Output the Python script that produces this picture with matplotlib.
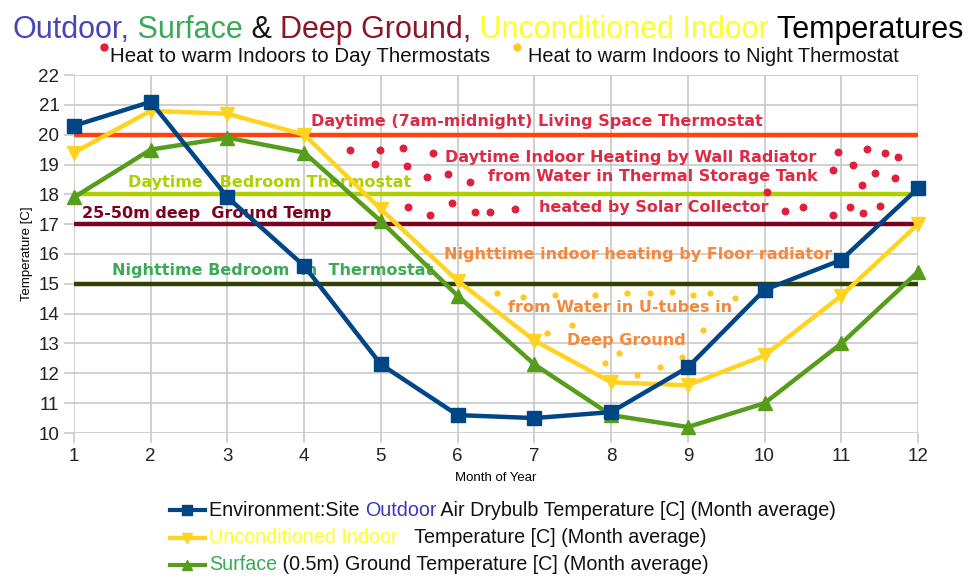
import matplotlib
matplotlib.use("Agg")
import matplotlib.pyplot as plt
from matplotlib.text import Annotation

plt.rcParams['font.family'] = ['Liberation Sans', 'DejaVu Sans']

# ---------------------------------------------------------------
# data
# ---------------------------------------------------------------
months = [1, 2, 3, 4, 5, 6, 7, 8, 9, 10, 11, 12]
outdoor = [20.3, 21.1, 17.9, 15.6, 12.3, 10.6, 10.5, 10.7, 12.2, 14.8, 15.8, 18.2]
indoor = [19.4, 20.8, 20.7, 20.0, 17.5, 15.1, 13.1, 11.7, 11.6, 12.6, 14.6, 17.0]
surface = [17.9, 19.5, 19.9, 19.4, 17.1, 14.6, 12.3, 10.6, 10.2, 11.0, 13.0, 15.4]

day_living = 20
day_bedroom = 18
deep_ground = 17
night_bedroom = 15

# decorative "heat" dots (month, temperature)
red_dot_m = [4.60, 4.99, 5.29, 5.68, 4.92, 5.34, 5.60, 5.87, 6.16, 5.35, 5.64, 5.93,
             6.23, 6.42, 10.96, 11.33, 11.57, 11.74, 10.89, 11.15, 11.44, 11.70, 11.27,
             10.03, 6.75, 10.27, 10.50, 10.89, 11.11, 11.28, 11.50]
red_dot_t = [19.49, 19.49, 19.55, 19.39, 19.02, 18.95, 18.58, 18.68, 18.41, 17.57, 17.31,
             17.71, 17.41, 17.41, 19.42, 19.52, 19.39, 19.25, 18.82, 18.98, 18.71, 18.55,
             18.31, 18.08, 17.51, 17.44, 17.57, 17.31, 17.57, 17.37, 17.61]
yel_dot_m = [6.51, 6.85, 7.27, 7.79, 8.21, 8.51, 8.79, 9.07, 9.29, 9.61, 7.16, 9.20,
             7.92, 8.64, 8.92, 7.49, 8.10, 8.34]
yel_dot_t = [14.69, 14.56, 14.62, 14.62, 14.69, 14.69, 14.73, 14.62, 14.69, 14.52, 13.35,
             13.45, 12.35, 12.21, 12.55, 13.62, 12.68, 11.94]

C_BLUE = '#004586'
C_YEL = '#ffd320'
C_GRN = '#579d1c'
C_ORG = '#ff420e'
C_LIME = '#aecf00'
C_MAR = '#7e0021'
C_OLV = '#314004'
C_RED = '#dd2a45'
C_NIGHT = '#f5883a'

fig = plt.figure(figsize=(9.76, 5.77), dpi=100, facecolor='white')
ax = fig.add_axes([74 / 976, 1 - 433 / 577, (918 - 74) / 976, (433 - 75) / 577])

ax.set_xlim(1, 12)
ax.set_ylim(10, 22)
ax.set_xticks(months)
ax.set_yticks(range(10, 23))
ax.grid(True, color='#c8c8c8', lw=1.2)
ax.set_axisbelow(True)
for sp in ax.spines.values():
    sp.set_visible(False)
ax.tick_params(axis='both', colors='#c8c8c8', length=7, width=1.2, labelcolor='#222222',
               labelsize=13.5)
ax.set_ylabel('Temperature [C]', fontsize=9.5, labelpad=4)
ax.set_xlabel('Month of Year', fontsize=9.5, labelpad=5)

# thermostat / ground levels
ax.axhline(day_living, color=C_ORG, lw=3.2, zorder=2)
ax.axhline(day_bedroom, color=C_LIME, lw=3.2, zorder=2)
ax.axhline(deep_ground, color=C_MAR, lw=3.2, zorder=2)
ax.axhline(night_bedroom, color=C_OLV, lw=3.2, zorder=2)

ax.scatter(red_dot_m, red_dot_t, s=22, color='#e0203a', zorder=2)
ax.scatter(yel_dot_m, yel_dot_t, s=12, color='#ffc820', zorder=2)

# annotations
bold = dict(fontsize=11.5, fontweight='bold', va='center', zorder=3, family='DejaVu Sans')
ax.text(7.03, 20.45, 'Daytime (7am-midnight) Living Space Thermostat', color=C_RED, ha='center', **bold)
ax.text(8.25, 19.25, 'Daytime Indoor Heating by Wall Radiator', color=C_RED, ha='center', **bold)
ax.text(8.55, 18.6, 'from Water in Thermal Storage Tank', color=C_RED, ha='center', **bold)
ax.text(8.56, 17.55, 'heated by Solar Collector', color=C_RED, ha='center', **bold)
ax.text(1.7, 18.4, 'Daytime   Bedroom Thermostat', color=C_LIME, ha='left', **bold)
ax.text(1.1, 17.35, '25-50m deep  Ground Temp', color=C_MAR, ha='left', **bold)
ax.text(1.5, 15.45, 'Nighttime Bedroom  m  Thermostat', color='#3aaa55', ha='left', **bold)
ax.text(8.35, 15.97, 'Nighttime indoor heating by Floor radiator', color=C_NIGHT, ha='center', **bold)
ax.text(8.12, 14.2, 'from Water in U-tubes in', color=C_NIGHT, ha='center', **bold)
ax.text(8.2, 13.1, 'Deep Ground', color=C_NIGHT, ha='center', **bold)

# series
l1, = ax.plot(months, outdoor, color=C_BLUE, lw=3.2, marker='s', ms=10, clip_on=False, zorder=5)
l2, = ax.plot(months, indoor, color=C_YEL, lw=3.2, marker='v', ms=10, clip_on=False, zorder=4)
l3, = ax.plot(months, surface, color=C_GRN, lw=3.2, marker='^', ms=10, clip_on=False, zorder=4)


def rb(x, y, parts, size):
    """Consecutive text pieces in different colours on one baseline."""
    t = fig.text(x, y, parts[0][0], color=parts[0][1], fontsize=size, va='baseline', ha='left')
    for s, c in parts[1:]:
        t = fig.add_artist(Annotation(
            s, xy=(1, 0), xycoords=t, xytext=(0, 0), textcoords='offset points',
            color=c, fontsize=size, va='bottom', ha='left'))
    return t


rb(12 / 976, 1 - 38 / 577,
   [('Outdoor,', '#4646b4'), (' Surface', '#3aaa55'), (' & ', '#111111'),
    ('Deep Ground,', '#8a1628'), (' Unconditioned Indoor', '#ffff26'),
    (' Temperatures', '#000000')], 22)

rb(110 / 976, 1 - 62 / 577, [('Heat to warm Indoors to Day Thermostats', '#111111')], 14.8)
rb(528 / 976, 1 - 62 / 577, [('Heat to warm Indoors to Night Thermostat', '#111111')], 14.3)
fig.add_artist(plt.Line2D([104 / 976], [1 - 47 / 577], marker='o', ms=5, color='#e0203a',
                          transform=fig.transFigure))
fig.add_artist(plt.Line2D([517 / 976], [1 - 47 / 577], marker='o', ms=5, color='#ffc820',
                          transform=fig.transFigure))

# legend rows below the plot
legend_rows = [
    (l1, [('Environment:Site ', '#111111'), ('Outdoor', '#3838c0'),
          (' Air Drybulb Temperature [C] (Month average)', '#111111')]),
    (l2, [('Unconditioned Indoor', '#ffff26'), ('   Temperature [C] (Month average)', '#111111')]),
    (l3, [('Surface', '#3aaa55'), (' (0.5m) Ground Temperature [C] (Month average)', '#111111')]),
]
for i, (line, parts) in enumerate(legend_rows):
    yc = 1 - (510 + i * 27.5) / 577
    fig.add_artist(plt.Line2D([170 / 976, 205 / 976], [yc, yc], color=line.get_color(), lw=3,
                              transform=fig.transFigure))
    fig.add_artist(plt.Line2D([187 / 976], [yc], marker=line.get_marker(), ms=7,
                              color=line.get_color(), transform=fig.transFigure))
    rb(209 / 976, yc - 5.5 / 577, parts, 14.2)

fig.savefig('out.png', dpi=100, facecolor='white')
